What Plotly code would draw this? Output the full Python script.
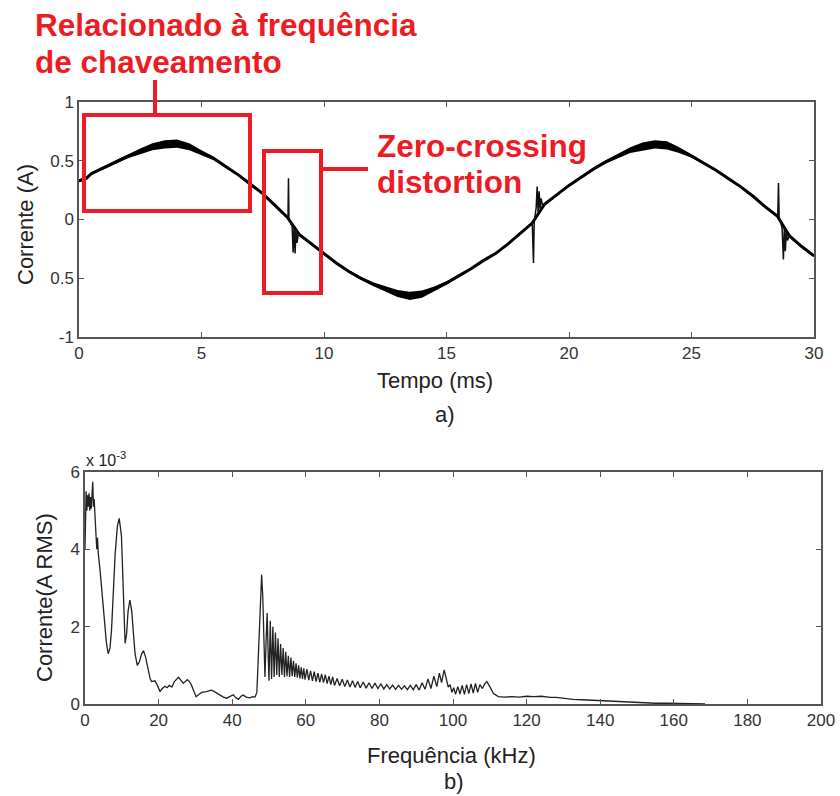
import plotly.graph_objects as go

# ---------------- data: a) current waveform ----------------
t_ms = [0, 0.3, 0.5, 1, 1.5, 2, 2.5, 3, 3.5, 4, 4.5, 5, 5.5, 6, 6.5, 7, 7.5, 8, 8.5,
        9, 9.5, 10, 10.5, 11, 11.5, 12, 12.5, 13, 13.5, 14, 14.5, 15, 15.5, 16, 16.5,
        17, 17.5, 18, 18.5, 19, 19.5, 20, 20.5, 21, 21.5, 22, 22.5, 23, 23.5, 24, 24.5,
        25, 25.5, 26, 26.5, 27, 27.5, 28, 28.5, 29, 29.5, 30]
i_a = [0.33, 0.35, 0.39, 0.44, 0.49, 0.54, 0.58, 0.62, 0.64, 0.645, 0.62, 0.57, 0.52,
       0.45, 0.38, 0.30, 0.22, 0.12, 0.02, -0.13, -0.21, -0.29, -0.37, -0.44, -0.50,
       -0.55, -0.59, -0.63, -0.65, -0.635, -0.59, -0.54, -0.48, -0.42, -0.35, -0.29,
       -0.21, -0.12, -0.03, 0.13, 0.21, 0.29, 0.36, 0.43, 0.49, 0.54, 0.59, 0.62, 0.64,
       0.63, 0.59, 0.54, 0.48, 0.42, 0.35, 0.28, 0.20, 0.11, 0.03, -0.14, -0.23, -0.31]
# half-width of the switching ripple band (A)
ripple = [0.012, 0.012, 0.012, 0.012, 0.014, 0.018, 0.025, 0.03, 0.035, 0.035, 0.03,
          0.02, 0.015, 0.01, 0.01, 0.01, 0.01, 0.01, 0.01, 0.01, 0.01, 0.01, 0.01, 0.01,
          0.012, 0.015, 0.02, 0.03, 0.035, 0.03, 0.02, 0.015, 0.012, 0.01, 0.01, 0.01,
          0.01, 0.01, 0.01, 0.01, 0.01, 0.01, 0.01, 0.012, 0.014, 0.018, 0.025, 0.035,
          0.035, 0.035, 0.025, 0.015, 0.012, 0.01, 0.01, 0.01, 0.01, 0.01, 0.01, 0.01,
          0.01, 0.01]
# zero-crossing distortion transients
spike_t = [8.53, 8.55, 8.57, 8.62, 8.70, 8.74, 8.78, 8.82, 8.86, 8.90, 8.95, None,
           18.50, 18.55, 18.58, 18.62, 18.66, 18.70, 18.74, 18.78, 18.82, 18.86, 18.92, None,
           28.52, 28.55, 28.58, 28.64, 28.70, 28.75, 28.79, 28.83, 28.87, 28.92, 28.98]
spike_i = [0.02, 0.35, 0.00, -0.02, -0.06, -0.28, -0.05, -0.29, -0.08, -0.20, -0.12, None,
           -0.03, -0.37, -0.02, 0.03, 0.10, 0.28, 0.06, 0.24, 0.09, 0.18, 0.12, None,
           0.03, 0.31, 0.01, -0.02, -0.08, -0.34, -0.07, -0.27, -0.10, -0.18, -0.14]

# ---------------- data: b) spectrum (values in units of 1e-3 A RMS) ----------------
freq_khz = [0.0, 0.15, 0.3, 0.5, 0.7, 0.9, 1.1, 1.3, 1.5, 1.7, 1.9, 2.1, 2.3, 2.5, 2.7, 3.0,
            3.2, 3.4, 3.6, 4.1, 5.0, 5.8, 6.3, 6.8, 7.2, 7.7, 8.2, 8.8, 9.3, 9.9, 10.3, 10.6,
            10.9, 11.3, 11.7, 12.2, 12.7, 13.1, 13.6, 14.2, 14.8, 15.4, 15.9, 16.5, 17.2,
            17.7, 18.1, 19.0, 19.5, 20.4, 21.0, 21.7, 22.3, 22.9, 23.6, 24.3, 25.4, 26.2,
            26.7, 27.3, 27.8, 28.4, 28.9, 29.5, 30.2, 31.0, 31.7, 33.0, 34.4, 35.5, 36.7,
            37.6, 38.5, 39.3, 40.3, 41.0, 41.7, 42.4, 43.0, 43.8, 44.8, 45.5, 46.2, 46.7,
            47.1, 47.6, 48.0, 48.3, 48.6, 48.9, 49.2, 49.5, 49.8, 50.0,
            50.35, 50.7, 51.05, 51.4, 51.75, 52.1, 52.45, 52.8, 53.15, 53.5, 53.85, 54.2,
            54.55, 54.9, 55.25, 55.6, 55.95, 56.3, 56.65, 57.0, 57.35, 57.7, 58.05, 58.4,
            58.75, 59.1, 59.45, 59.8, 60.3, 60.8, 61.3, 61.8, 62.3, 62.8, 63.3, 63.8, 64.3,
            64.8, 65.3, 65.8, 66.3, 66.8, 67.3, 67.8, 68.5, 69.2, 69.9, 70.6, 71.3, 72.0,
            72.7, 73.4, 74.1, 74.8, 75.6, 76.4, 77.2, 78.0, 78.8, 79.6, 80.4, 81.2, 82.0,
            82.8, 83.6, 84.4, 85.2, 86.0, 86.8, 87.6, 88.4, 89.2, 90.0, 90.8, 91.6, 92.4,
            93.2, 94.0, 94.8, 95.6, 96.3, 96.9, 97.6, 98.2, 98.7, 99.2, 99.7, 100.2, 100.7,
            101.3, 101.9, 102.5, 103.1, 103.7, 104.3, 104.9, 105.5, 106.1, 106.7, 107.3,
            108.0, 108.6, 109.2, 110.0, 111.0, 112.3, 114.0, 116.0, 118.0, 120.0, 122.0,
            124.0, 126.4, 128.0, 130.0, 132.6, 135.0, 137.0, 140.0, 142.0, 144.0, 146.0,
            149.0, 152.0, 155.0, 158.0, 162.0, 165.0, 168.5]
amp_e3 = [4.0, 5.2, 5.5, 5.0, 5.4, 5.1, 5.45, 5.0, 5.35, 5.05, 5.5, 5.75, 5.1, 5.3, 4.9, 4.5,
          4.0, 4.3, 3.9, 3.45, 2.45, 1.6, 1.3, 1.45, 1.9, 2.9, 3.9, 4.6, 4.8, 4.35, 3.3, 2.2,
          1.57, 1.8, 2.4, 2.69, 2.4, 1.9, 1.3, 1.0, 1.1, 1.3, 1.38, 1.2, 0.88,
          0.65, 0.58, 0.6, 0.52, 0.32, 0.4, 0.46, 0.42, 0.48, 0.44, 0.58, 0.69, 0.6,
          0.54, 0.58, 0.63, 0.58, 0.5, 0.35, 0.19, 0.25, 0.3, 0.32, 0.36, 0.3, 0.22,
          0.18, 0.15, 0.2, 0.24, 0.16, 0.12, 0.2, 0.23, 0.18, 0.16, 0.19, 0.18, 0.3,
          1.4, 2.6, 3.34, 2.8, 1.74, 0.7, 1.6, 2.35, 1.2, 0.6,
          2.15, 0.65, 2.0, 0.7, 1.85, 0.75, 1.7, 0.7, 1.55, 0.75, 1.45, 0.7,
          1.35, 0.72, 1.25, 0.7, 1.2, 0.72, 1.12, 0.7, 1.05, 0.68, 1.0, 0.66,
          0.95, 0.65, 0.92, 0.63, 0.9, 0.62, 0.86, 0.6, 0.84, 0.58, 0.8, 0.56, 0.78,
          0.55, 0.76, 0.53, 0.72, 0.5, 0.7, 0.48, 0.66, 0.47, 0.64, 0.45, 0.62, 0.44,
          0.6, 0.43, 0.58, 0.42, 0.57, 0.41, 0.55, 0.4, 0.54, 0.4, 0.52, 0.39, 0.5,
          0.39, 0.49, 0.38, 0.48, 0.38, 0.47, 0.37, 0.48, 0.37, 0.5, 0.36, 0.55, 0.38,
          0.65, 0.4, 0.72, 0.45, 0.8, 0.55, 0.88, 0.6, 0.44, 0.5, 0.3, 0.42, 0.25,
          0.45, 0.26, 0.48, 0.25, 0.5, 0.27, 0.52, 0.28, 0.53, 0.3, 0.5,
          0.4, 0.52, 0.58, 0.45, 0.27, 0.19, 0.18, 0.19, 0.18, 0.2, 0.19,
          0.2, 0.17, 0.17, 0.14, 0.12, 0.11, 0.1, 0.09, 0.08, 0.06, 0.05,
          0.03, 0.03, 0.02, 0.02, 0.01, 0.01, 0.0]

x_ticks_a = [0, 5, 10, 15, 20, 25, 30]
y_ticks_a = [-1, -0.5, 0, 0.5, 1]
y_text_a = ["-1", "0.5", "0", "0.5", "1"]
x_ticks_b = [0, 20, 40, 60, 80, 100, 120, 140, 160, 180, 200]
y_ticks_b = [0, 2, 4, 6]

# ---------------- figure ----------------
W, H = 840, 796
def px(x):
    return x / W
def py(y):
    return 1 - y / H

FONT = "Liberation Sans, Arial, sans-serif"
RED = "#ED1C24"
AX = "#555555"

upper = [v + r for v, r in zip(i_a, ripple)]
lower = [v - r for v, r in zip(i_a, ripple)]

fig = go.Figure()
fig.add_trace(go.Scatter(x=t_ms, y=upper, mode="lines", line=dict(width=0, color="black"),
                         xaxis="x", yaxis="y", showlegend=False, hoverinfo="skip"))
fig.add_trace(go.Scatter(x=t_ms, y=lower, mode="lines", line=dict(width=0, color="black"),
                         fill="tonexty", fillcolor="black",
                         xaxis="x", yaxis="y", showlegend=False, hoverinfo="skip"))
fig.add_trace(go.Scatter(x=t_ms, y=i_a, mode="lines", line=dict(width=3, color="black"),
                         xaxis="x", yaxis="y", showlegend=False))
fig.add_trace(go.Scatter(x=spike_t, y=spike_i, mode="lines", line=dict(width=1.5, color="#111111"),
                         xaxis="x", yaxis="y", showlegend=False, connectgaps=False))
fig.add_trace(go.Scatter(x=freq_khz, y=amp_e3, mode="lines", line=dict(width=1.3, color="#222222"),
                         xaxis="x2", yaxis="y2", showlegend=False))

axis_common = dict(showline=True, linecolor=AX, linewidth=1.5, mirror="ticks", ticks="inside",
                   ticklen=5, tickcolor=AX, tickwidth=1, showgrid=False, zeroline=False,
                   tickfont=dict(family=FONT, size=17, color="#333333"), automargin=False)

fig.update_layout(
    width=W, height=H, margin=dict(l=0, r=0, t=0, b=0),
    paper_bgcolor="white", plot_bgcolor="white",
    xaxis=dict(domain=[px(79), px(814)], range=[0, 30], tickvals=x_ticks_a, anchor="y",
               **axis_common),
    yaxis=dict(domain=[py(337), py(102)], range=[-1, 1], tickvals=y_ticks_a, ticktext=y_text_a,
               anchor="x", **axis_common),
    xaxis2=dict(domain=[px(85), px(821)], range=[0, 200], tickvals=x_ticks_b, anchor="y2",
                **axis_common),
    yaxis2=dict(domain=[py(704), py(472)], range=[0, 6], tickvals=y_ticks_b, anchor="x2",
                **axis_common),
)

def ann(text, x, y, size=22, angle=0, color="#222222", xanchor="center", yanchor="middle"):
    fig.add_annotation(text=text, x=px(x), y=py(y), xref="paper", yref="paper",
                       showarrow=False, textangle=angle, xanchor=xanchor, yanchor=yanchor,
                       font=dict(family=FONT, size=size, color=color))

ann("Corrente (A)", 26, 225, angle=-90)
ann("Tempo (ms)", 435, 381)
ann("a)", 445, 415)
ann("Corrente(A RMS)", 44, 598, angle=-90)
ann("Frequência (kHz)", 451, 755)
ann("b)", 454, 781)
ann("x 10<sup>-3</sup>", 84, 459, size=16, xanchor="left")

ann("<b>Relacionado à frequência</b>", 33, 25, size=31.5, color=RED, xanchor="left")
ann("<b>de chaveamento</b>", 33, 62, size=31.5, color=RED, xanchor="left")
ann("<b>Zero-crossing</b>", 375, 146, size=31.5, color=RED, xanchor="left")
ann("<b>distortion</b>", 375, 182, size=31.5, color=RED, xanchor="left")

def rect(x0, y0, x1, y1):
    fig.add_shape(type="rect", xref="paper", yref="paper", x0=px(x0), x1=px(x1),
                  y0=py(y0), y1=py(y1), line=dict(color=RED, width=4), layer="above")
def seg(x0, y0, x1, y1):
    fig.add_shape(type="line", xref="paper", yref="paper", x0=px(x0), x1=px(x1),
                  y0=py(y0), y1=py(y1), line=dict(color=RED, width=4), layer="above")

rect(84, 115, 250, 211)
rect(264, 151, 321, 293)
seg(155, 80, 155, 115)
seg(321, 169, 368, 169)

fig.write_html("out.html")
